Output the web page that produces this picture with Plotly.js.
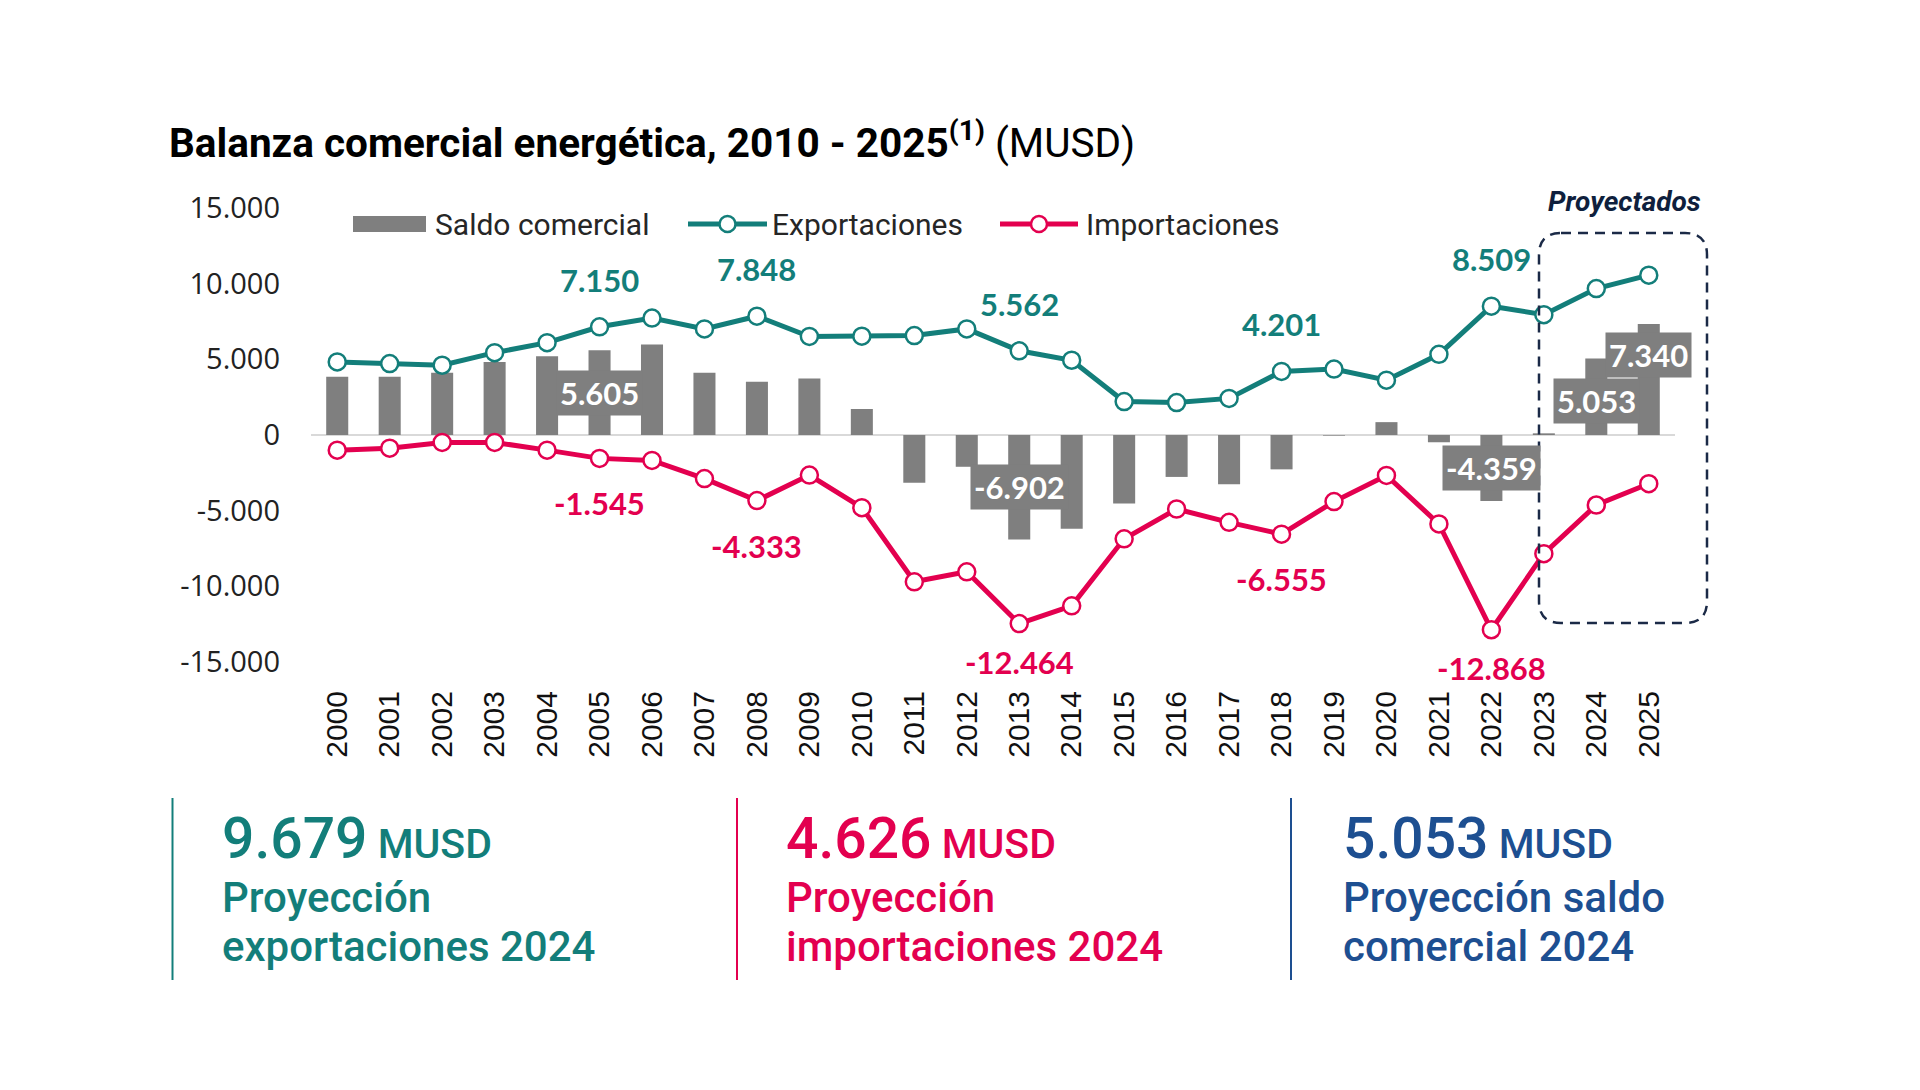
<!DOCTYPE html>
<html>
<head>
<meta charset="utf-8">
<script src="https://cdn.plot.ly/plotly-3.0.1.min.js"></script>
<style>html,body{margin:0;padding:0;background:#fff;}#chart{width:1920px;height:1090px;}</style>
</head>
<body>
<div id="chart"></div>
<script>
// ---- Data ----
const years = ['2000','2001','2002','2003','2004','2005','2006','2007','2008','2009','2010','2011','2012',
               '2013','2014','2015','2016','2017','2018','2019','2020','2021','2022','2023','2024','2025'];
const exportaciones = [4830, 4720, 4610, 5440, 6100, 7150, 7730, 7010, 7848, 6510, 6530, 6570, 7010,
                       5562, 4940, 2210, 2140, 2420, 4201, 4360, 3620, 5330, 8509, 7950, 9679, 10560];
const importaciones = [-1000, -870, -490, -490, -1000, -1545, -1680, -2880, -4333, -2650, -4800, -9700, -9040,
                       -12464, -11290, -6860, -4890, -5770, -6555, -4400, -2670, -5880, -12868, -7840, -4626, -3220];
const saldo = [3850, 3850, 4110, 4830, 5200, 5605, 5980, 4110, 3520, 3740, 1720, -3150, -2100,
               -6902, -6200, -4520, -2770, -3250, -2270, -40, 850, -480, -4359, 110, 5053, 7340];
const yTickVals = [-15000, -10000, -5000, 0, 5000, 10000, 15000];
const yTickText = ['-15.000', '-10.000', '-5.000', '0', '5.000', '10.000', '15.000'];
const expLabelYears = ['2005', '2008', '2013', '2018', '2022'];
const impLabelYears = ['2005', '2008', '2013', '2018', '2022'];
const saldoLabelYears = ['2005', '2013', '2022', '2024', '2025'];
const seriesNames = ['Saldo comercial', 'Exportaciones', 'Importaciones'];
const panelYear = '2024';

// ---- Styles ----
const TEAL = '#137e7a', PINK = '#e3004f', GRAY = '#7f7f7f', NAVY = '#1b2a47', BLUE = '#1d4f91';
const W = 1920, H = 1090;
const M = {l: 311, r: 245, t: 208, b: 428};
const PW = W - M.l - M.r, PH = H - M.t - M.b;
const xp = px => (px - M.l) / PW;
const yp = py => (H - M.b - py) / PH;

function fmt(v) {
  const s = Math.round(Math.abs(v)).toString().replace(/\B(?=(\d{3})+(?!\d))/g, '.');
  return (v < 0 ? '-' : '') + s;
}
const idx = y => years.indexOf(y);

const traces = [
  {type: 'bar', x: years, y: saldo, name: seriesNames[0], marker: {color: GRAY}, width: 0.42, hoverinfo: 'x+y'},
  {type: 'scatter', mode: 'lines+markers', x: years, y: exportaciones, name: seriesNames[1],
   line: {color: TEAL, width: 5}, marker: {symbol: 'circle', size: 17, color: '#fff', line: {color: TEAL, width: 2.5}}},
  {type: 'scatter', mode: 'lines+markers', x: years, y: importaciones, name: seriesNames[2],
   line: {color: PINK, width: 5}, marker: {symbol: 'circle', size: 17, color: '#fff', line: {color: PINK, width: 2.5}}}
];

const ann = [];
const labFont = (c, s) => ({family: 'Lato, "Open Sans", sans-serif', size: s || 31, color: c, weight: 'bold'});
expLabelYears.forEach(y => ann.push({x: idx(y), y: exportaciones[idx(y)], xref: 'x', yref: 'y', text: fmt(exportaciones[idx(y)]),
  showarrow: false, xanchor: 'center', yanchor: 'middle', yshift: 47, font: labFont(TEAL)}));
impLabelYears.forEach(y => {
  const v = importaciones[idx(y)];
  ann.push({x: idx(y), y: v, xref: 'x', yref: 'y', text: fmt(v), showarrow: false, xanchor: 'center', yanchor: 'middle',
    yshift: v < -12000 ? -38 : -45, font: labFont(PINK)});
});
const barLabelFrac = {'2024': 0.44, '2025': 0.72};
saldoLabelYears.forEach(y => {
  const v = saldo[idx(y)];
  ann.push({x: idx(y), y: v * (barLabelFrac[y] || 0.5), xref: 'x', yref: 'y', text: fmt(v), showarrow: false,
    xanchor: 'center', yanchor: 'middle', bgcolor: GRAY, borderpad: 3, font: labFont('#fff', 31)});
});

// Projected box title
ann.push({xref: 'paper', yref: 'paper', x: xp(1624), y: yp(201), xanchor: 'center', yanchor: 'middle',
  text: '<b><i>Proyectados</i></b>', showarrow: false,
  font: {family: 'Roboto, sans-serif', size: 28, color: '#0f1f3d'}});

// Legend texts
const legFont = {family: 'Roboto, sans-serif', size: 30, color: '#262626'};
[[433, seriesNames[0]], [770, seriesNames[1]], [1084, seriesNames[2]]].forEach(([px, t]) =>
  ann.push({xref: 'paper', yref: 'paper', x: xp(px), y: yp(224), xanchor: 'left', yanchor: 'middle', text: t,
    showarrow: false, font: legFont}));

// Bottom panels
const panels = [
  {x: 220, line: 172.5, color: TEAL, big: fmt(exportaciones[idx(panelYear)]), l1: 'Proyección', l2: 'exportaciones ' + panelYear},
  {x: 784, line: 737, color: PINK, big: fmt(-importaciones[idx(panelYear)]), l1: 'Proyección', l2: 'importaciones ' + panelYear},
  {x: 1341, line: 1291, color: BLUE, big: fmt(saldo[idx(panelYear)]), l1: 'Proyección saldo', l2: 'comercial ' + panelYear}
];
const shapes = [];
const pFont = c => ({family: 'Roboto, sans-serif', size: 42, color: c, weight: 500});
panels.forEach(p => {
  ann.push({xref: 'paper', yref: 'paper', x: xp(p.x), y: yp(838), xanchor: 'left', yanchor: 'middle', showarrow: false,
    text: '<span style="font-size:57px">' + p.big + '</span> MUSD',
    font: {family: 'Roboto, sans-serif', size: 41, color: p.color, weight: 500}});
  ann.push({xref: 'paper', yref: 'paper', x: xp(p.x), y: yp(897), xanchor: 'left', yanchor: 'middle', showarrow: false,
    text: p.l1, font: pFont(p.color)});
  ann.push({xref: 'paper', yref: 'paper', x: xp(p.x), y: yp(946), xanchor: 'left', yanchor: 'middle', showarrow: false,
    text: p.l2, font: pFont(p.color)});
  shapes.push({type: 'line', xref: 'paper', yref: 'paper', x0: xp(p.line), x1: xp(p.line), y0: yp(798), y1: yp(980),
    line: {color: p.color, width: 2}});
});

// Legend symbols
shapes.push({type: 'rect', xref: 'paper', yref: 'paper', x0: xp(353), x1: xp(426), y0: yp(232), y1: yp(216),
  fillcolor: GRAY, line: {width: 0}});
[[688, 767, TEAL], [1000, 1078, PINK]].forEach(([a, b, c]) => {
  shapes.push({type: 'line', xref: 'paper', yref: 'paper', x0: xp(a), x1: xp(b), y0: yp(224), y1: yp(224), line: {color: c, width: 5}});
  shapes.push({type: 'circle', xref: 'paper', yref: 'paper', xsizemode: 'pixel', ysizemode: 'pixel',
    xanchor: xp((a + b) / 2), yanchor: yp(224), x0: -8, x1: 8, y0: -8, y1: 8, fillcolor: '#fff', line: {color: c, width: 2.5}});
});

// Dashed rounded box around projected years
(function () {
  const L = xp(1539), R = xp(1707), T = yp(233), B = yp(623), rx = 22 / PW, ry = 22 / PH;
  const path = `M ${L + rx},${T} L ${R - rx},${T} Q ${R},${T} ${R},${T - ry} L ${R},${B + ry} Q ${R},${B} ${R - rx},${B} ` +
               `L ${L + rx},${B} Q ${L},${B} ${L},${B + ry} L ${L},${T - ry} Q ${L},${T} ${L + rx},${T} Z`;
  shapes.push({type: 'path', xref: 'paper', yref: 'paper', path: path, line: {color: NAVY, width: 2.5, dash: '10px,7px'}});
})();

const layout = {
  width: W, height: H, margin: M, paper_bgcolor: '#fff', plot_bgcolor: '#fff', showlegend: false,
  title: {text: '<b>Balanza comercial energética, 2010 - 2025<sup>(1)</sup></b> (MUSD)', xref: 'container', yref: 'container',
    x: 169 / W, xanchor: 'left', y: 1 - 143 / H, yanchor: 'middle', font: {family: 'Roboto, sans-serif', size: 40.5, color: '#000'}},
  xaxis: {type: 'category', range: [-0.5, 25.5], tickangle: -90, showgrid: false, zeroline: false, showline: false,
    ticks: '', ticklabelstandoff: 22, tickfont: {family: '"Liberation Sans", Arial, sans-serif', size: 30, color: '#111'}},
  yaxis: {range: [-15000, 15000], tickvals: yTickVals, ticktext: yTickText, showgrid: false, showline: false,
    zeroline: true, zerolinecolor: '#d9d9d9', zerolinewidth: 2, ticks: '', ticklabelstandoff: 30,
    tickfont: {family: '"Open Sans", sans-serif', size: 29, color: '#222'}},
  bargap: 0.5, annotations: ann, shapes: shapes
};

Plotly.newPlot('chart', traces, layout, {displayModeBar: false, staticPlot: true});
</script>
</body>
</html>
